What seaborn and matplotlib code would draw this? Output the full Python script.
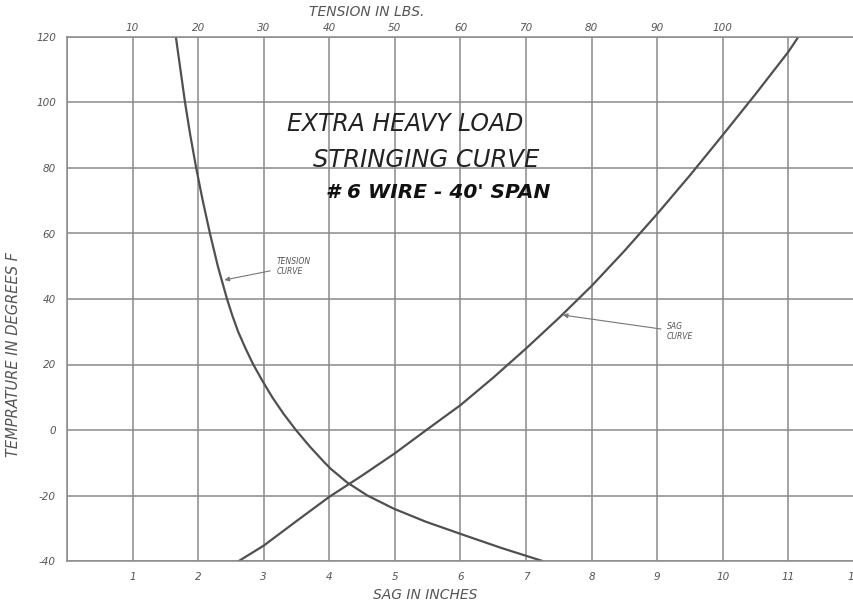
import matplotlib
matplotlib.use("Agg")
import matplotlib.pyplot as plt
import pandas as pd
import seaborn as sns

# values: (sag in inches, temperature in deg F)
SAG_CURVE_SAG = [2.62, 3.0, 3.5, 4.0, 4.5, 5.0, 5.5, 6.0, 6.5, 7.0, 7.5, 8.0,
                 8.5, 9.0, 9.5, 10.0, 10.5, 11.0, 11.15]
SAG_CURVE_TEMP = [-40, -35.3, -27.8, -20.4, -13.9, -7.1, 0.3, 7.6, 16.0, 24.9, 34.2, 44.0,
                  54.7, 66.0, 77.8, 90.1, 102.6, 115.5, 120]

TENSION_CURVE_SAG = [1.66, 1.73, 1.80, 1.88, 1.97, 2.07, 2.18, 2.30, 2.44, 2.52, 2.61, 2.72,
                     2.84, 2.98, 3.13, 3.30, 3.49, 3.70, 3.93, 4.03, 4.27, 4.58, 4.98,
                     5.47, 6.04, 6.62, 7.25]
TENSION_CURVE_TEMP = [120, 110, 100, 90, 80, 70, 60, 50, 40, 35, 30, 25,
                      20, 15, 10, 5, 0, -5, -10, -12, -16, -20, -24,
                      -28, -32, -36, -40]

SAG_TICKS = list(range(1, 13))
TEMP_TICKS = [-40, -20, 0, 20, 40, 60, 80, 100, 120]
TENSION_LABELS = ["10", "20", "30", "40", "50", "60", "70", "80", "90", "100"]

GRID = "#8a8a8a"
INK = "#505050"
TXT = "#555555"

df = pd.concat([
    pd.DataFrame({"sag": SAG_CURVE_SAG, "temp": SAG_CURVE_TEMP, "curve": "sag"}),
    pd.DataFrame({"sag": TENSION_CURVE_SAG, "temp": TENSION_CURVE_TEMP, "curve": "tension"}),
])

sns.set_style("white")
plt.rcParams["font.family"] = ["DejaVu Sans"]

fig = plt.figure(figsize=(8.54, 6.01), dpi=100)
ax = fig.add_axes([67 / 854, 40 / 601, 1 - 67 / 854, 524 / 601])

for name, grp in df.groupby("curve"):
    sns.lineplot(data=grp, x="sag", y="temp", ax=ax, color=INK, lw=1.6,
                 estimator=None, sort=True, legend=False)

ax.set_xlim(0, 12)
ax.set_ylim(-40, 120)
ax.set_xticks(range(0, 13))
ax.set_xticklabels([""] + [str(t) for t in SAG_TICKS])
ax.set_yticks(TEMP_TICKS)
ax.set_yticklabels([str(t) for t in TEMP_TICKS])
ax.grid(True, color=GRID, lw=1.1)
ax.set_axisbelow(True)
ax.tick_params(length=0, labelsize=7.5, labelcolor=TXT, pad=8)
for lbl in ax.get_xticklabels() + ax.get_yticklabels():
    lbl.set_fontstyle("italic")
for side in ["left", "bottom", "top"]:
    ax.spines[side].set_color(GRID)
    ax.spines[side].set_linewidth(1.1)
ax.spines["right"].set_visible(False)

top = ax.secondary_xaxis("top")
top.set_xticks(range(1, 11))
top.set_xticklabels(TENSION_LABELS)
top.tick_params(length=0, labelsize=7.5, labelcolor=TXT, pad=3)
for lbl in top.get_xticklabels():
    lbl.set_fontstyle("italic")
top.spines["top"].set_visible(False)

ax.set_xlabel("SAG IN INCHES", fontsize=10, color=TXT, style="italic")
ax.xaxis.set_label_coords(0.455, -0.052)
ax.set_ylabel("TEMPRATURE IN DEGREES F", fontsize=10.5, color=TXT, style="italic")
ax.yaxis.set_label_coords(-0.058, 0.395)
fig.text(367 / 854, 1 - 12 / 601, "TENSION IN LBS.", fontsize=10, color=TXT,
         style="italic", ha="center", va="center")

ax.text(5.16, 93.5, "EXTRA HEAVY LOAD", fontsize=17, color="#222222", style="italic",
        ha="center", va="center")
ax.text(5.48, 82.4, "STRINGING CURVE", fontsize=17.5, color="#222222", style="italic",
        ha="center", va="center")
ax.text(5.66, 72.4, "# 6 WIRE - 40' SPAN", fontsize=14.5, color="#111111", style="italic",
        weight="bold", ha="center", va="center")

ax.annotate("TENSION\nCURVE", xy=(2.40, 45.8), xytext=(3.19, 50.0), fontsize=5.5,
            color=TXT, style="italic", ha="left", va="center",
            arrowprops=dict(arrowstyle="-|>", color="#777777", lw=0.8,
                            shrinkA=2, shrinkB=0, mutation_scale=7))
ax.annotate("SAG\nCURVE", xy=(7.56, 35.1), xytext=(9.15, 30.0), fontsize=5.5,
            color=TXT, style="italic", ha="left", va="center",
            arrowprops=dict(arrowstyle="-|>", color="#777777", lw=0.8,
                            shrinkA=2, shrinkB=0, mutation_scale=7))

fig.savefig("out.png", dpi=100)
